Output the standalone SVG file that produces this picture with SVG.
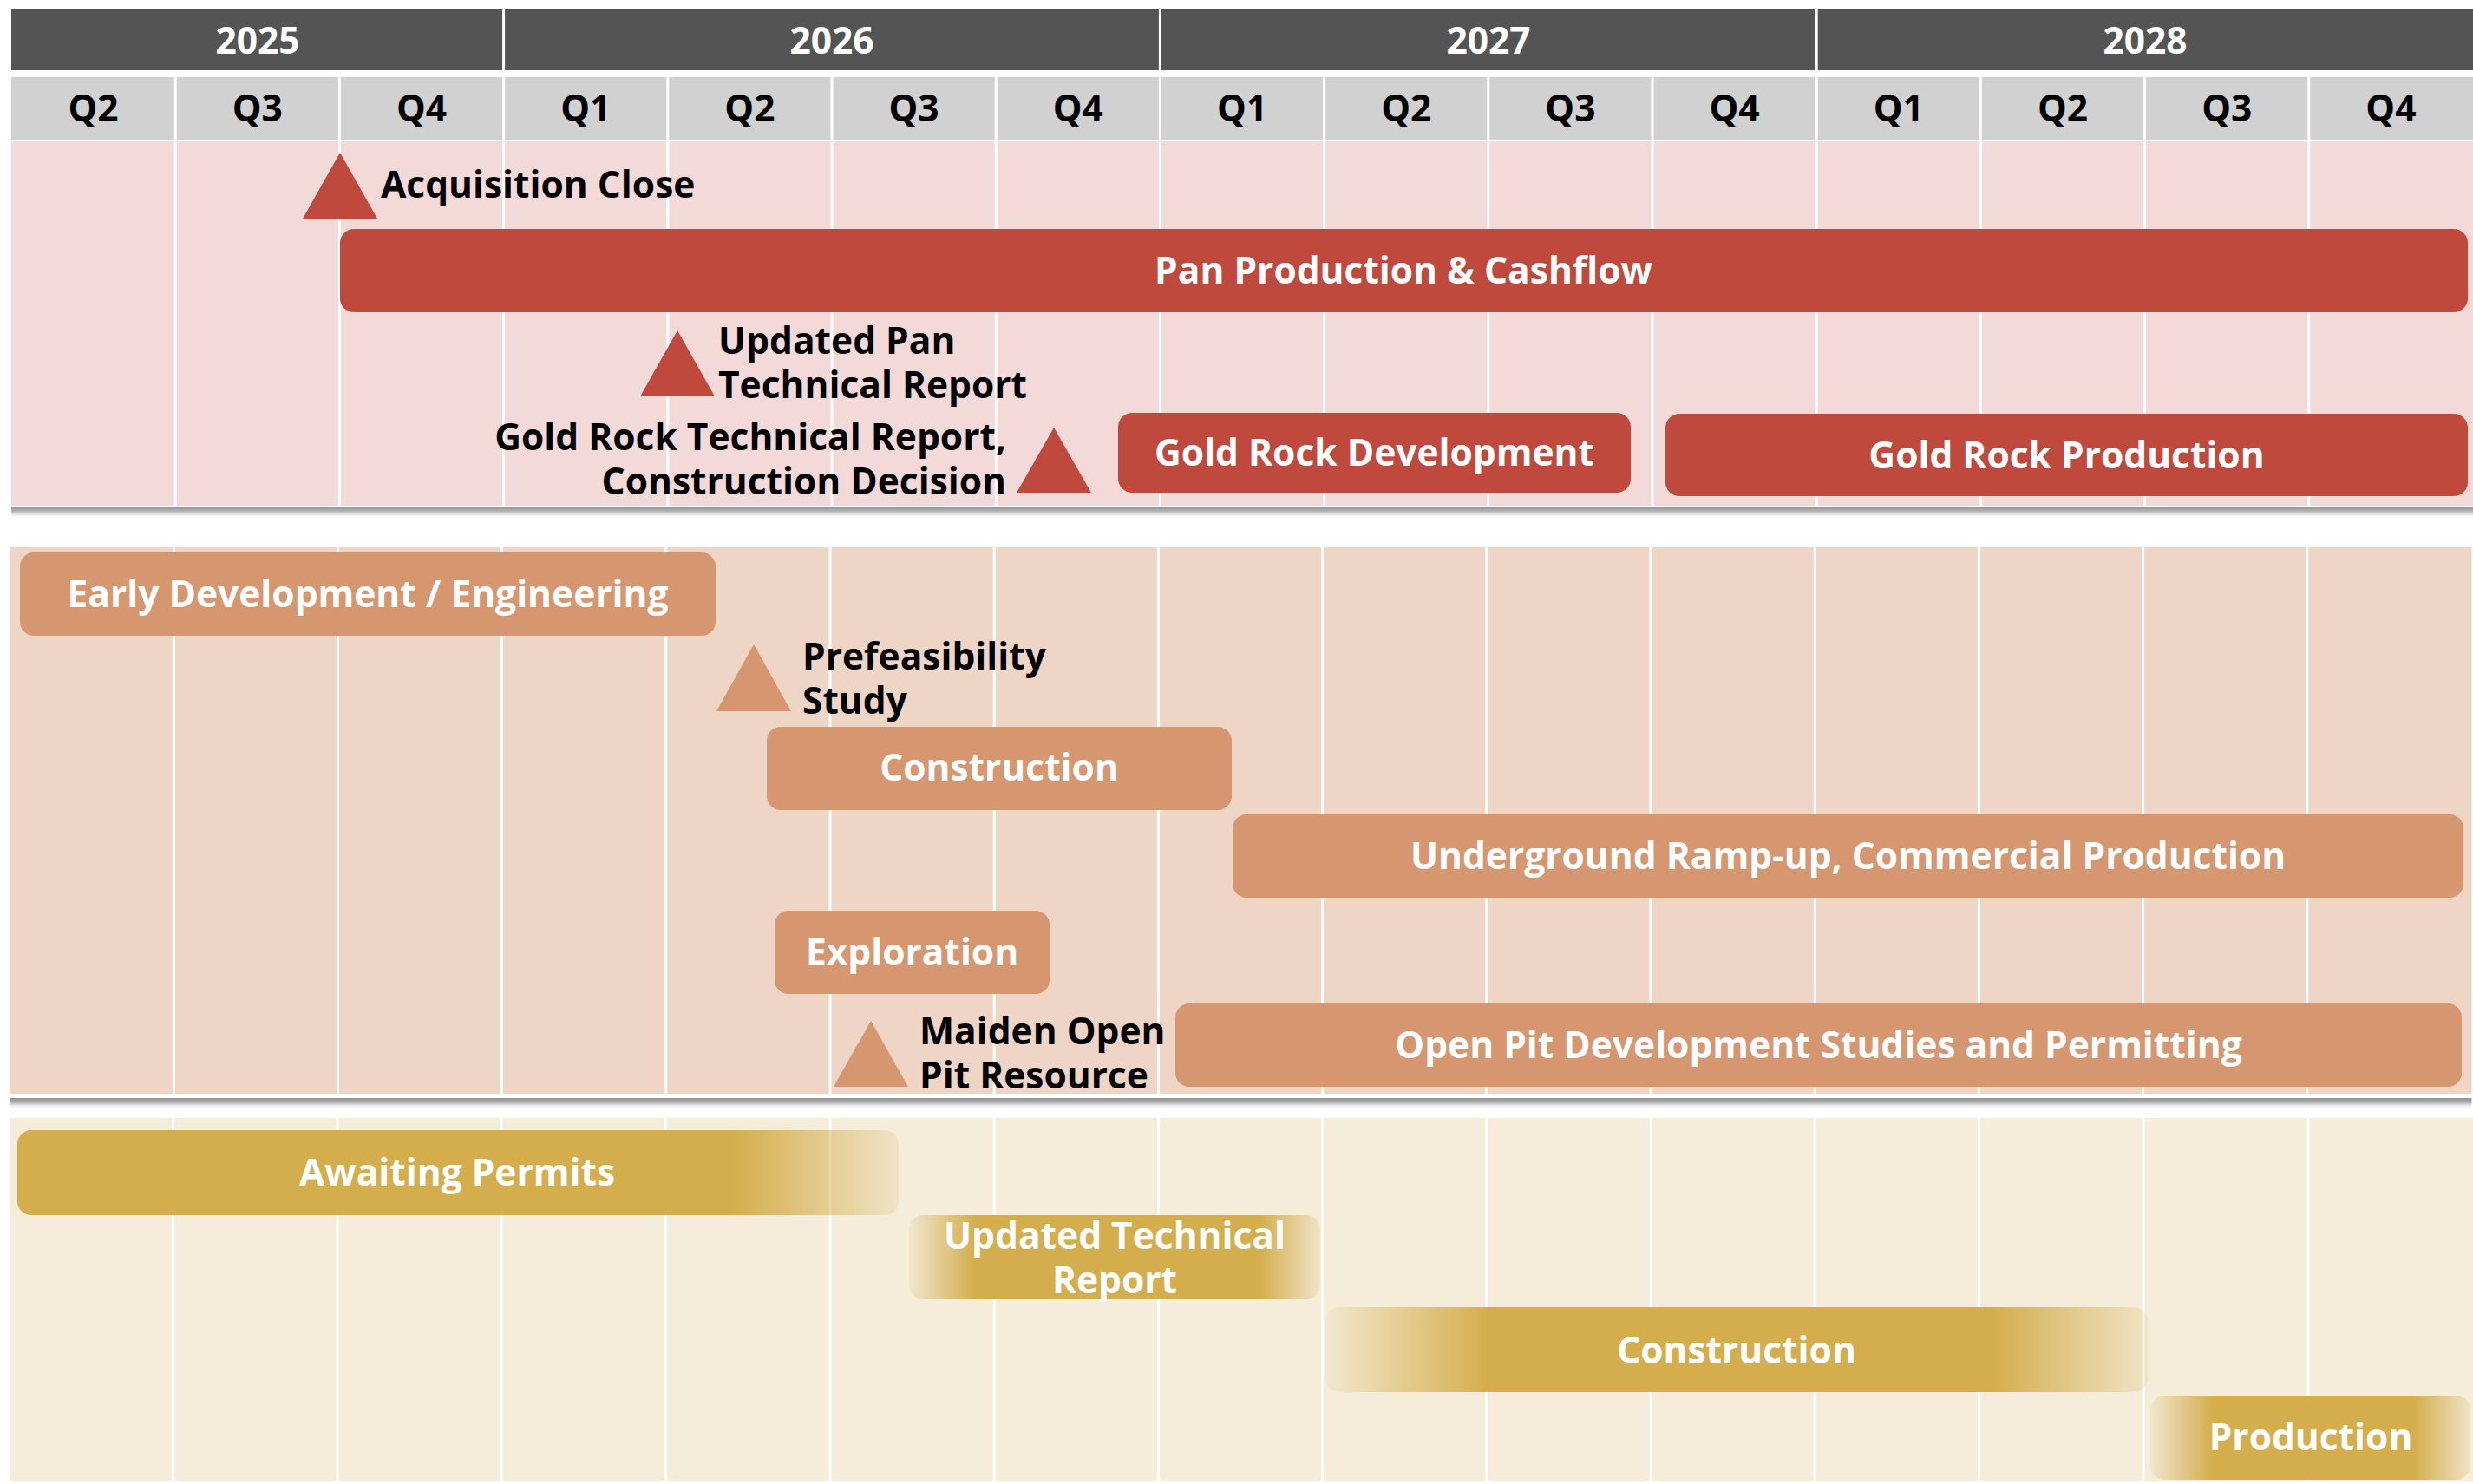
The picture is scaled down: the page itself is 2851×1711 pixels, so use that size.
<svg xmlns="http://www.w3.org/2000/svg" width="2851" height="1711" viewBox="0 0 2851 1711">
<defs>
<style>
.t{font-family:"Open Sans","Liberation Sans",sans-serif;font-weight:700;font-size:42.5px}
.w{fill:#FFFFFF}
.k{fill:#000000}
.c{text-anchor:middle}
.r{text-anchor:end}
.yr{fill:#545454}
.qr{fill:#D1D1D1}
.grid line{stroke:#FFFFFF;stroke-width:3}
.red{fill:#C0493E}
.org{fill:#D59670}
</style>
<linearGradient id="shadow" x1="0" y1="0" x2="0" y2="1">
<stop offset="0" stop-color="#8F8F8F"/>
<stop offset="0.4" stop-color="#B5B5B5"/>
<stop offset="1" stop-color="#FFFFFF" stop-opacity="0"/>
</linearGradient>
<linearGradient id="gAwait" x1="0" y1="0" x2="1" y2="0">
<stop offset="0" stop-color="#D4AE4C"/>
<stop offset="0.81" stop-color="#D4AE4C"/>
<stop offset="1" stop-color="#D4AE4C" stop-opacity="0.15"/>
</linearGradient>
<linearGradient id="gUpd" x1="0" y1="0" x2="1" y2="0">
<stop offset="0" stop-color="#D4AE4C" stop-opacity="0.1"/>
<stop offset="0.16" stop-color="#D4AE4C"/>
<stop offset="0.85" stop-color="#D4AE4C"/>
<stop offset="1" stop-color="#D4AE4C" stop-opacity="0.15"/>
</linearGradient>
<linearGradient id="gCon" x1="0" y1="0" x2="1" y2="0">
<stop offset="0" stop-color="#D4AE4C" stop-opacity="0.08"/>
<stop offset="0.2" stop-color="#D4AE4C"/>
<stop offset="0.81" stop-color="#D4AE4C"/>
<stop offset="1" stop-color="#D4AE4C" stop-opacity="0.15"/>
</linearGradient>
<linearGradient id="gProd" x1="0" y1="0" x2="1" y2="0">
<stop offset="0" stop-color="#D4AE4C" stop-opacity="0.1"/>
<stop offset="0.2" stop-color="#D4AE4C"/>
<stop offset="0.82" stop-color="#D4AE4C"/>
<stop offset="1" stop-color="#D4AE4C" stop-opacity="0.15"/>
</linearGradient>
</defs>
<rect width="2851" height="1711" fill="#FFFFFF"/>

<g id="header">
<rect class="yr" x="13" y="10" width="2838" height="71"/>
<rect class="qr" x="13" y="89" width="2838" height="72"/>
<g class="grid">
<line x1="580.6" y1="10" x2="580.6" y2="81"/>
<line x1="1337.4" y1="10" x2="1337.4" y2="81"/>
<line x1="2094.2" y1="10" x2="2094.2" y2="81"/>
<line x1="202.2" y1="89" x2="202.2" y2="161"/>
<line x1="391.4" y1="89" x2="391.4" y2="161"/>
<line x1="580.6" y1="89" x2="580.6" y2="161"/>
<line x1="769.8" y1="89" x2="769.8" y2="161"/>
<line x1="959" y1="89" x2="959" y2="161"/>
<line x1="1148.2" y1="89" x2="1148.2" y2="161"/>
<line x1="1337.4" y1="89" x2="1337.4" y2="161"/>
<line x1="1526.6" y1="89" x2="1526.6" y2="161"/>
<line x1="1715.8" y1="89" x2="1715.8" y2="161"/>
<line x1="1905" y1="89" x2="1905" y2="161"/>
<line x1="2094.2" y1="89" x2="2094.2" y2="161"/>
<line x1="2283.4" y1="89" x2="2283.4" y2="161"/>
<line x1="2472.6" y1="89" x2="2472.6" y2="161"/>
<line x1="2661.8" y1="89" x2="2661.8" y2="161"/>
</g>
<text class="t w c" x="297" y="62">2025</text>
<text class="t w c" x="959" y="62">2026</text>
<text class="t w c" x="1716" y="62">2027</text>
<text class="t w c" x="2473" y="62">2028</text>
<text class="t k c" x="107.6" y="140">Q2</text>
<text class="t k c" x="296.8" y="140">Q3</text>
<text class="t k c" x="486" y="140">Q4</text>
<text class="t k c" x="675.2" y="140">Q1</text>
<text class="t k c" x="864.4" y="140">Q2</text>
<text class="t k c" x="1053.6" y="140">Q3</text>
<text class="t k c" x="1242.8" y="140">Q4</text>
<text class="t k c" x="1432" y="140">Q1</text>
<text class="t k c" x="1621.2" y="140">Q2</text>
<text class="t k c" x="1810.4" y="140">Q3</text>
<text class="t k c" x="1999.6" y="140">Q4</text>
<text class="t k c" x="2188.8" y="140">Q1</text>
<text class="t k c" x="2378" y="140">Q2</text>
<text class="t k c" x="2567.2" y="140">Q3</text>
<text class="t k c" x="2756.4" y="140">Q4</text>
</g>

<g id="section-pan">
<rect x="13" y="163" width="2838" height="420" fill="#F4D9D9"/>
<rect x="13" y="584" width="2838" height="14" fill="url(#shadow)"/>
<g class="grid">
<line x1="202.2" y1="163" x2="202.2" y2="583"/>
<line x1="391.4" y1="163" x2="391.4" y2="583"/>
<line x1="580.6" y1="163" x2="580.6" y2="583"/>
<line x1="769.8" y1="163" x2="769.8" y2="583"/>
<line x1="959" y1="163" x2="959" y2="583"/>
<line x1="1148.2" y1="163" x2="1148.2" y2="583"/>
<line x1="1337.4" y1="163" x2="1337.4" y2="583"/>
<line x1="1526.6" y1="163" x2="1526.6" y2="583"/>
<line x1="1715.8" y1="163" x2="1715.8" y2="583"/>
<line x1="1905" y1="163" x2="1905" y2="583"/>
<line x1="2094.2" y1="163" x2="2094.2" y2="583"/>
<line x1="2283.4" y1="163" x2="2283.4" y2="583"/>
<line x1="2472.6" y1="163" x2="2472.6" y2="583"/>
<line x1="2661.8" y1="163" x2="2661.8" y2="583"/>
</g>
</g>

<g id="section-goldrock-mid">
<rect x="11.5" y="631" width="2838" height="630" fill="#EED5C6"/>
<rect x="11.5" y="1266" width="2838" height="13" fill="url(#shadow)"/>
<g class="grid">
<line x1="200.5" y1="631" x2="200.5" y2="1261"/>
<line x1="389.5" y1="631" x2="389.5" y2="1261"/>
<line x1="578.5" y1="631" x2="578.5" y2="1261"/>
<line x1="767.8" y1="631" x2="767.8" y2="1261"/>
<line x1="957" y1="631" x2="957" y2="1261"/>
<line x1="1146.2" y1="631" x2="1146.2" y2="1261"/>
<line x1="1335.4" y1="631" x2="1335.4" y2="1261"/>
<line x1="1524.6" y1="631" x2="1524.6" y2="1261"/>
<line x1="1713.8" y1="631" x2="1713.8" y2="1261"/>
<line x1="1903" y1="631" x2="1903" y2="1261"/>
<line x1="2092.2" y1="631" x2="2092.2" y2="1261"/>
<line x1="2281.4" y1="631" x2="2281.4" y2="1261"/>
<line x1="2470.6" y1="631" x2="2470.6" y2="1261"/>
<line x1="2659.8" y1="631" x2="2659.8" y2="1261"/>
</g>
</g>

<g id="section-bottom">
<rect x="11" y="1289" width="2840" height="418" fill="#F5ECDA"/>
<g class="grid">
<line x1="199.5" y1="1289" x2="199.5" y2="1707"/>
<line x1="389" y1="1289" x2="389" y2="1707"/>
<line x1="578" y1="1289" x2="578" y2="1707"/>
<line x1="767.5" y1="1289" x2="767.5" y2="1707"/>
<line x1="957" y1="1289" x2="957" y2="1707"/>
<line x1="1146.2" y1="1289" x2="1146.2" y2="1707"/>
<line x1="1335.4" y1="1289" x2="1335.4" y2="1707"/>
<line x1="1524.6" y1="1289" x2="1524.6" y2="1707"/>
<line x1="1713.8" y1="1289" x2="1713.8" y2="1707"/>
<line x1="1903" y1="1289" x2="1903" y2="1707"/>
<line x1="2092.2" y1="1289" x2="2092.2" y2="1707"/>
<line x1="2281.4" y1="1289" x2="2281.4" y2="1707"/>
<line x1="2471" y1="1289" x2="2471" y2="1707"/>
<line x1="2661" y1="1289" x2="2661" y2="1707"/>
</g>
</g>

<g id="m-acquisition">
<polygon class="red" points="392,176 435,252 349,252"/>
<text class="t k" x="439" y="228">Acquisition Close</text>
</g>
<g id="b-pan">
<rect class="red" x="392" y="264" width="2453" height="96" rx="16"/>
<text class="t w c" x="1618" y="327">Pan Production &amp; Cashflow</text>
</g>
<g id="m-updated-pan">
<polygon class="red" points="781,381 824,457 738,457"/>
<text class="t k" x="828" y="408">Updated Pan</text>
<text class="t k" x="828" y="459">Technical Report</text>
</g>
<g id="m-goldrock-tr">
<polygon class="red" points="1215,493 1258,568 1172,568"/>
<text class="t k r" x="1160" y="519">Gold Rock Technical Report,</text>
<text class="t k r" x="1160" y="570">Construction Decision</text>
</g>
<g id="b-goldrock-dev">
<rect class="red" x="1289" y="476" width="591" height="92" rx="16"/>
<text class="t w c" x="1584.5" y="537">Gold Rock Development</text>
</g>
<g id="b-goldrock-prod">
<rect class="red" x="1920" y="477" width="925" height="95" rx="16"/>
<text class="t w c" x="2382.5" y="540">Gold Rock Production</text>
</g>

<g id="b-early-dev">
<rect class="org" x="23" y="637" width="802" height="96" rx="16"/>
<text class="t w c" x="424" y="700">Early Development / Engineering</text>
</g>
<g id="m-prefeasibility">
<polygon class="org" points="869,743 912,820 826,820"/>
<text class="t k" x="925" y="772">Prefeasibility</text>
<text class="t k" x="925" y="823">Study</text>
</g>
<g id="b-construction-ug">
<rect class="org" x="884" y="838" width="536" height="96" rx="16"/>
<text class="t w c" x="1152" y="900">Construction</text>
</g>
<g id="b-underground">
<rect class="org" x="1421" y="939" width="1419" height="96" rx="16"/>
<text class="t w c" x="2130.5" y="1002">Underground Ramp-up, Commercial Production</text>
</g>
<g id="b-exploration">
<rect class="org" x="893" y="1050" width="317" height="96" rx="16"/>
<text class="t w c" x="1051.5" y="1113">Exploration</text>
</g>
<g id="m-maiden">
<polygon class="org" points="1004,1177 1047,1253 961,1253"/>
<text class="t k" x="1060" y="1204">Maiden Open</text>
<text class="t k" x="1060" y="1255">Pit Resource</text>
</g>
<g id="b-openpit">
<rect class="org" x="1355" y="1157" width="1483" height="96" rx="16"/>
<text class="t w c" x="2096.5" y="1220">Open Pit Development Studies and Permitting</text>
</g>

<g id="b-awaiting">
<rect x="20" y="1303" width="1016" height="98" rx="16" fill="url(#gAwait)"/>
<text class="t w c" x="527" y="1367">Awaiting Permits</text>
</g>
<g id="b-updated-tr">
<rect x="1048" y="1401" width="474" height="97" rx="16" fill="url(#gUpd)"/>
<text class="t w c" x="1285" y="1440">Updated Technical</text>
<text class="t w c" x="1285" y="1491">Report</text>
</g>
<g id="b-construction-gold">
<rect x="1528" y="1507" width="948" height="98" rx="16" fill="url(#gCon)"/>
<text class="t w c" x="2002" y="1572">Construction</text>
</g>
<g id="b-production">
<rect x="2479" y="1609" width="369" height="97" rx="16" fill="url(#gProd)"/>
<text class="t w c" x="2664" y="1672">Production</text>
</g>
</svg>
